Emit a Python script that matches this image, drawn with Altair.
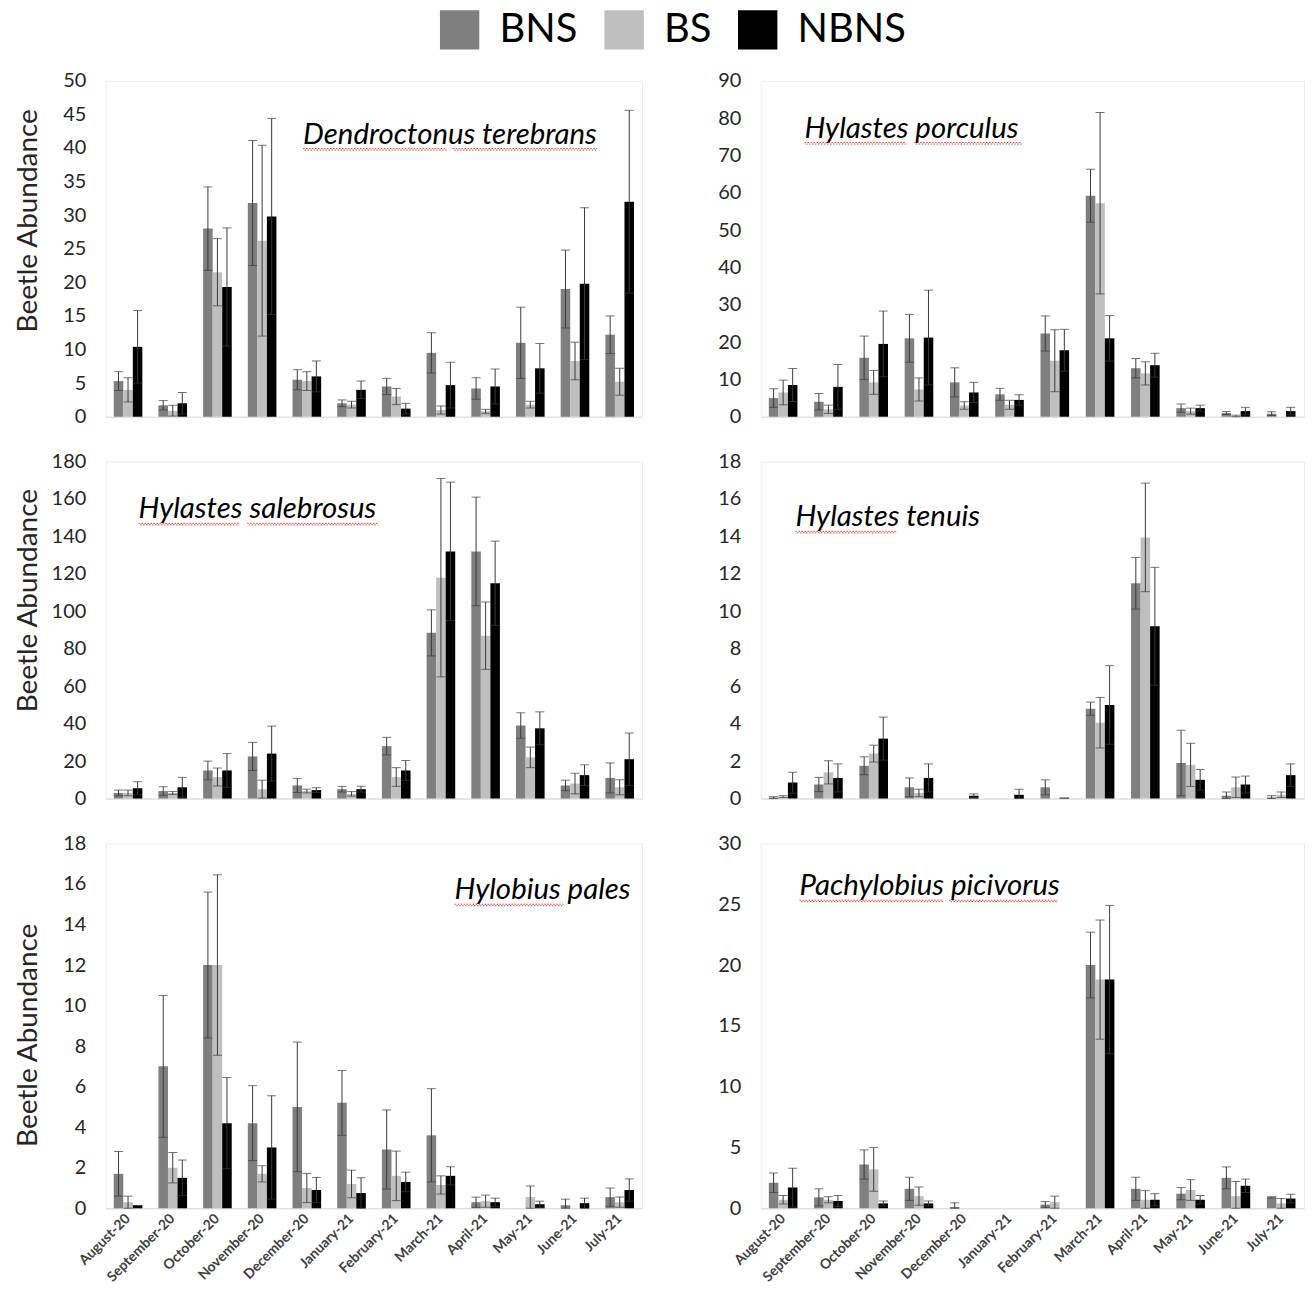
import altair as alt
import pandas as pd

MONTHS = ["August-20", "September-20", "October-20", "November-20", "December-20",
          "January-21", "February-21", "March-21", "April-21", "May-21", "June-21", "July-21"]
GROUPS = ["BNS", "BS", "NBNS"]
COLORS = ["#7f7f7f", "#bfbfbf", "#000000"]

# Dendroctonus terebrans
DT_BNS = [5.3, 1.7, 28.0, 31.8, 5.5, 2.0, 4.5, 9.5, 4.2, 11.0, 19.0, 12.2]
DT_BNS_SE = [1.4, 0.7, 6.2, 9.3, 1.5, 0.5, 1.2, 3.0, 1.6, 5.3, 5.8, 2.8]
DT_BS = [4.0, 0.9, 21.5, 26.2, 5.3, 1.8, 3.0, 1.0, 0.8, 1.8, 8.3, 5.2]
DT_BS_SE = [1.8, 0.8, 5.0, 14.2, 1.4, 0.5, 1.2, 0.6, 0.3, 0.5, 2.8, 2.0]
DT_NBNS = [10.4, 2.0, 19.3, 29.8, 6.0, 4.0, 1.2, 4.7, 4.5, 7.2, 19.8, 32.0]
DT_NBNS_SE = [5.4, 1.6, 8.8, 14.6, 2.3, 1.3, 0.8, 3.4, 2.6, 3.7, 11.3, 13.6]

# Hylastes porculus
HP_BNS = [5.0, 4.0, 15.8, 21.0, 9.2, 6.0, 22.3, 59.2, 13.0, 2.3, 1.0, 0.8]
HP_BNS_SE = [2.5, 2.2, 5.8, 6.4, 3.9, 1.6, 4.7, 7.1, 2.6, 1.1, 0.4, 0.5]
HP_BS = [6.5, 2.0, 9.2, 7.3, 3.0, 3.2, 15.0, 57.2, 11.6, 1.5, 0.2, 0.0]
HP_BS_SE = [3.3, 1.1, 3.2, 3.1, 1.0, 1.2, 8.3, 24.3, 3.1, 0.8, 0.2, 0.0]
HP_NBNS = [8.5, 8.0, 19.5, 21.2, 6.5, 4.5, 17.8, 21.0, 13.8, 2.3, 1.5, 1.5]
HP_NBNS_SE = [4.4, 6.0, 8.8, 12.7, 2.7, 1.4, 5.6, 6.1, 3.2, 0.8, 1.0, 1.0]

# Hylastes salebrosus
HS_BNS = [3.0, 4.0, 15.0, 22.5, 7.0, 5.0, 28.0, 88.5, 132.0, 39.0, 7.0, 11.0]
HS_BNS_SE = [1.5, 2.3, 5.0, 7.5, 3.8, 1.5, 4.7, 12.3, 29.0, 6.8, 2.8, 8.0]
HS_BS = [3.0, 3.0, 11.5, 5.0, 4.0, 2.5, 11.5, 118.0, 87.0, 22.0, 8.0, 6.0]
HS_BS_SE = [1.5, 0.8, 4.8, 4.8, 1.0, 1.2, 5.0, 53.0, 18.0, 5.5, 5.5, 4.0]
HS_NBNS = [5.5, 6.0, 15.0, 24.0, 4.5, 5.0, 15.0, 132.0, 115.0, 37.5, 12.5, 21.0]
HS_NBNS_SE = [3.5, 5.3, 9.0, 14.7, 1.3, 1.5, 5.3, 37.0, 22.5, 8.8, 5.5, 14.0]

# Hylastes tenuis
HT_BNS = [0.05, 0.75, 1.75, 0.6, 0.0, 0.0, 0.6, 4.8, 11.5, 1.9, 0.15, 0.05]
HT_BNS_SE = [0.05, 0.38, 0.48, 0.5, 0.0, 0.0, 0.4, 0.35, 1.38, 1.75, 0.2, 0.1]
HT_BS = [0.1, 1.4, 2.4, 0.3, 0.0, 0.0, 0.0, 4.05, 13.95, 1.8, 0.6, 0.2]
HT_BS_SE = [0.05, 0.62, 0.45, 0.2, 0.0, 0.0, 0.0, 1.35, 2.9, 1.15, 0.55, 0.15]
HT_NBNS = [0.85, 1.1, 3.2, 1.1, 0.15, 0.2, 0.05, 5.0, 9.2, 1.0, 0.75, 1.25]
HT_NBNS_SE = [0.55, 0.75, 1.15, 0.75, 0.1, 0.3, 0.0, 2.1, 3.15, 0.55, 0.45, 0.6]

# Hylobius pales
HY_BNS = [1.7, 7.0, 12.0, 4.2, 5.0, 5.2, 2.9, 3.6, 0.3, 0.0, 0.15, 0.55]
HY_BNS_SE = [1.1, 3.5, 3.6, 1.85, 3.2, 1.6, 1.95, 2.3, 0.25, 0.0, 0.3, 0.45]
HY_BS = [0.3, 2.0, 12.0, 1.7, 1.0, 1.2, 1.6, 1.15, 0.35, 0.55, 0.0, 0.3]
HY_BS_SE = [0.3, 0.75, 4.45, 0.4, 0.72, 0.68, 1.22, 0.45, 0.3, 0.55, 0.0, 0.25]
HY_NBNS = [0.15, 1.5, 4.2, 3.0, 0.9, 0.75, 1.3, 1.6, 0.3, 0.2, 0.25, 0.9]
HY_NBNS_SE = [0.0, 0.88, 2.25, 2.55, 0.62, 0.75, 0.48, 0.45, 0.2, 0.15, 0.25, 0.55]

# Pachylobius picivorus
PP_BNS = [2.1, 0.9, 3.6, 1.6, 0.1, 0.0, 0.3, 20.0, 1.6, 1.2, 2.5, 0.9]
PP_BNS_SE = [0.8, 0.7, 1.2, 0.95, 0.35, 0.0, 0.25, 2.7, 0.95, 0.5, 0.9, 0.05]
PP_BS = [0.7, 0.7, 3.2, 1.0, 0.0, 0.0, 0.5, 18.8, 0.7, 1.5, 1.0, 0.4]
PP_BS_SE = [0.35, 0.25, 1.8, 0.75, 0.0, 0.0, 0.5, 4.9, 0.75, 0.85, 1.2, 0.4]
PP_NBNS = [1.7, 0.6, 0.4, 0.4, 0.0, 0.0, 0.0, 18.8, 0.7, 0.7, 1.85, 0.8]
PP_NBNS_SE = [1.6, 0.45, 0.2, 0.2, 0.0, 0.0, 0.0, 6.1, 0.5, 0.35, 0.55, 0.35]

FONT = "Lato"
ERR_COLOR = "#3a3a3a"
SQUIGGLE = "#e3403a"


def make_df(means, errs):
    rows = []
    for g, ml, el in zip(GROUPS, means, errs):
        for mon, m, e in zip(MONTHS, ml, el):
            rows.append({"month": mon, "group": g, "mean": m,
                         "lo": max(m - e, 0.0), "hi": m + e, "err": e})
    return pd.DataFrame(rows)


def squiggle(x0, x1, y):
    # spell-check style wavy underline (two offset dotted rules)
    one = pd.DataFrame({"k": [0]})
    a = alt.Chart(one).mark_rule(color=SQUIGGLE, strokeWidth=1, strokeDash=[1.5, 1.5]).encode(
        x=alt.value(x0), x2=alt.value(x1), y=alt.value(y))
    b = alt.Chart(one).mark_rule(color=SQUIGGLE, strokeWidth=1, strokeDash=[1.5, 1.5],
                                 strokeDashOffset=1.5).encode(
        x=alt.value(x0), x2=alt.value(x1), y=alt.value(y + 1.5))
    return [a, b]


def panel(df, ymax, ystep, name, tx, ty, unders, width, height, bottom, y_title,
          title_y, legend=False):
    xaxis = (alt.Axis(labelAngle=-45, labelAlign="right", labelBaseline="middle",
                      labelFontSize=14, labelFontWeight="bold", labelColor="#404040",
                      labelPadding=8, ticks=False, domainColor="#d9d9d9", title=None,
                      labelOverlap=False)
             if bottom else
             alt.Axis(labels=False, ticks=False, domainColor="#d9d9d9", title=None))
    x = alt.X("month:N", sort=MONTHS,
              scale=alt.Scale(paddingInner=0.36, paddingOuter=0.18), axis=xaxis)
    xo = alt.XOffset("group:N", sort=GROUPS,
                     scale=alt.Scale(paddingInner=0, paddingOuter=0))
    ticks_vals = list(range(0, ymax + 1, ystep))
    if y_title:
        yaxis = alt.Axis(values=ticks_vals, tickCount=len(ticks_vals) + 2,
                         domain=False, ticks=False,
                         grid=False, labelPadding=20, labelOverlap=False,
                         minExtent=49, maxExtent=49,
                         title=y_title, titlePadding=14, titleY=title_y)
    else:
        yaxis = alt.Axis(values=ticks_vals, tickCount=len(ticks_vals) + 2,
                         domain=False, ticks=False,
                         grid=False, labelPadding=20, labelOverlap=False,
                         title=None)
    yscale = alt.Scale(domain=[0, ymax], nice=False, zero=True)
    if legend:
        leg = alt.Legend(orient="none", legendX=335, legendY=-71, direction="horizontal",
                         title=None, symbolType="square", symbolSize=1560,
                         symbolStrokeWidth=0, labelFontSize=40, labelFont=FONT,
                         labelColor="#000000", labelOffset=20, columnPadding=26,
                         padding=0)
    else:
        leg = None
    color = alt.Color("group:N", scale=alt.Scale(domain=GROUPS, range=COLORS), legend=leg)
    ytitle = y_title if y_title else None

    base = alt.Chart(df)
    bars = base.mark_bar().encode(
        x=x, xOffset=xo,
        y=alt.Y("mean:Q", scale=yscale, axis=yaxis, title=ytitle, stack=None),
        color=color)
    errdf = base.transform_filter("datum.err > 0")
    rule = errdf.mark_rule(color=ERR_COLOR, strokeWidth=1).encode(
        x=x, xOffset=xo, y=alt.Y("lo:Q", title=ytitle, scale=yscale), y2="hi:Q")
    cap_hi = errdf.mark_tick(color=ERR_COLOR, thickness=1, size=9).encode(
        x=x, xOffset=xo, y=alt.Y("hi:Q", title=ytitle, scale=yscale))
    cap_lo = errdf.mark_tick(color=ERR_COLOR, thickness=1, size=9).encode(
        x=x, xOffset=xo, y=alt.Y("lo:Q", title=ytitle, scale=yscale))
    label = alt.Chart(pd.DataFrame({"label": [name]})).mark_text(
        font=FONT, fontSize=29.5, fontStyle="italic", align="left",
        baseline="alphabetic", color="#000000").encode(
        text="label:N", x=alt.value(tx), y=alt.value(ty))
    layers = [bars, rule, cap_hi, cap_lo, label]
    for (a, b) in unders:
        layers += squiggle(tx + a, tx + b, ty + 5)
    return alt.layer(*layers).properties(width=width, height=height)


LW = 538
RW = 545

p1 = panel(make_df([DT_BNS, DT_BS, DT_NBNS], [DT_BNS_SE, DT_BS_SE, DT_NBNS_SE]),
           50, 5, "Dendroctonus terebrans", 198, 63, [(0, 144), (150, 295)],
           LW, 337, False, "Beetle Abundance", 140, legend=True)
p2 = panel(make_df([HP_BNS, HP_BS, HP_NBNS], [HP_BNS_SE, HP_BS_SE, HP_NBNS_SE]),
           90, 10, "Hylastes porculus", 44, 57, [(0, 102), (110, 218)],
           RW, 337, False, "", 0)
p3 = panel(make_df([HS_BNS, HS_BS, HS_NBNS], [HS_BNS_SE, HS_BS_SE, HS_NBNS_SE]),
           180, 20, "Hylastes salebrosus", 33, 57, [(0, 101), (109, 240)],
           LW, 338, False, "Beetle Abundance", 139)
p4 = panel(make_df([HT_BNS, HT_BS, HT_NBNS], [HT_BNS_SE, HT_BS_SE, HT_NBNS_SE]),
           18, 2, "Hylastes tenuis", 35, 65, [(0, 101)],
           RW, 338, False, "", 0)
p5 = panel(make_df([HY_BNS, HY_BS, HY_NBNS], [HY_BNS_SE, HY_BS_SE, HY_NBNS_SE]),
           18, 2, "Hylobius pales", 350, 56, [(0, 109)],
           LW, 366, True, "Beetle Abundance", 192)
p6 = panel(make_df([PP_BNS, PP_BS, PP_NBNS], [PP_BNS_SE, PP_BS_SE, PP_NBNS_SE]),
           30, 5, "Pachylobius picivorus", 39, 52, [(0, 144), (150, 259)],
           RW, 366, True, "", 0)

row1 = alt.hconcat(p1, p2, spacing=74)
row2 = alt.hconcat(p3, p4, spacing=74)
row3 = alt.hconcat(p5, p6, spacing=74)

chart = alt.vconcat(row1, row2, row3, spacing=23).properties(
    padding={"left": 6, "top": 0, "right": 0, "bottom": 0}
).configure_view(
    stroke="#ececec", strokeWidth=1
).configure_axis(
    labelFont=FONT, labelFontSize=20, labelColor="#262626",
    titleFont=FONT, titleFontSize=28, titleFontWeight="normal", titleColor="#262626"
).configure_legend(
    labelFont=FONT
)

chart.save("out.html", embed_options={"renderer": "svg", "actions": False})
